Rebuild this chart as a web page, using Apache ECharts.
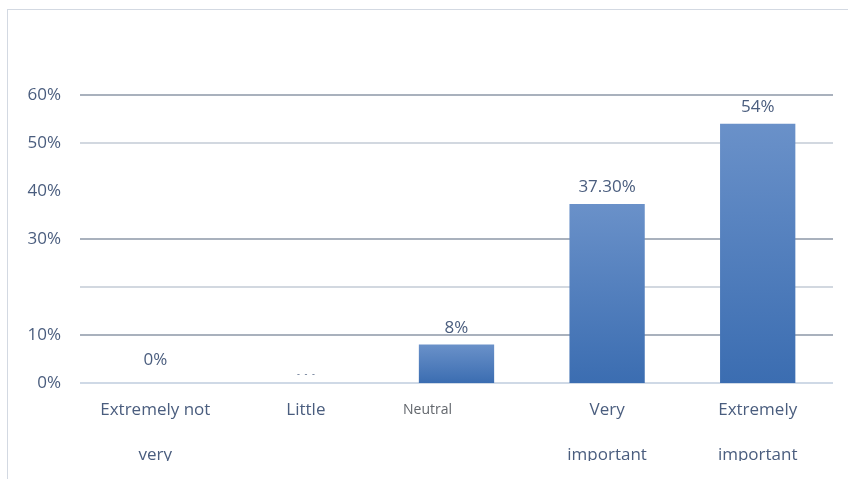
<!DOCTYPE html>
<html><head><meta charset="utf-8">
<script src="https://cdn.jsdelivr.net/npm/echarts@6/dist/echarts.min.js"></script>
<style>
html,body{margin:0;padding:0;background:#fff;}
#frame{position:absolute;left:7px;top:9px;width:841px;height:470px;border-left:1px solid #d3d9e2;border-top:1px solid #d3d9e2;}
#c{position:absolute;left:0;top:0;width:848px;height:461px;}
</style></head>
<body>
<div id="frame"></div>
<div id="c"></div>
<script>
const categories = ['Extremely not\nvery', 'Little', 'Neutral', 'Very\nimportant', 'Extremely\nimportant'];
const values = [0, 0, 8, 37.3, 54];
const valueLabels = ['0%', '-  -  -', '8%', '37.30%', '54%'];
const yTicks = [0, 10, 20, 30, 40, 50, 60];
const yTickLabels = ['0%', '10%', '', '30%', '40%', '50%', '60%'];
const gridColors = ['#cfd9e6', '#a9b1bd', '#d2d8e0', '#a9b1bd', 'rgba(0,0,0,0)', '#d2d8e0', '#a9b1bd'];

const chart = echarts.init(document.getElementById('c'));
const txt = '#4a5d7e';
const ff = 'Open Sans';
chart.setOption({
  animation: false,
  grid: {left: 80, right: 15, top: 95, bottom: 78, outerBoundsMode: 'none', containLabel: false},
  xAxis: {
    type: 'category',
    data: categories,
    axisLine: {show: false},
    axisTick: {show: false},
    axisLabel: {
      margin: 5,
      fontFamily: ff,
      fontSize: 17,
      color: txt,
      lineHeight: 45,
      formatter: function (v) {
        if (v === 'Neutral') return '{n|Neutral}';
        return v;
      },
      rich: {n: {fontSize: 14, color: '#62666c', fontFamily: ff, padding: [0, 58, 0, 0]}}
    }
  },
  yAxis: {
    type: 'value',
    min: 0, max: 60, interval: 10,
    axisLine: {show: false},
    axisTick: {show: false},
    axisLabel: {
      margin: 19,
      fontFamily: ff,
      fontSize: 17,
      color: txt,
      formatter: function (v) { return yTickLabels[yTicks.indexOf(v)]; }
    },
    splitLine: {lineStyle: {color: gridColors, width: 2}}
  },
  series: [{
    type: 'bar',
    data: values,
    barWidth: '50%',
    itemStyle: {
      color: new echarts.graphic.LinearGradient(0, 0, 0, 1, [
        {offset: 0, color: '#6a91c9'},
        {offset: 1, color: '#3b6db1'}
      ])
    },
    label: {
      show: true,
      position: 'top',
      distance: 8,
      fontFamily: ff,
      fontSize: 17,
      color: txt,
      formatter: function (p) { return valueLabels[p.dataIndex]; }
    },
    labelLayout: function (p) {
      if (p.dataIndex === 1) return {dy: 4, fontSize: 9};
      if (p.dataIndex === 0) return {dy: -6};
      return {};
    }
  }]
});
</script>
</body></html>
